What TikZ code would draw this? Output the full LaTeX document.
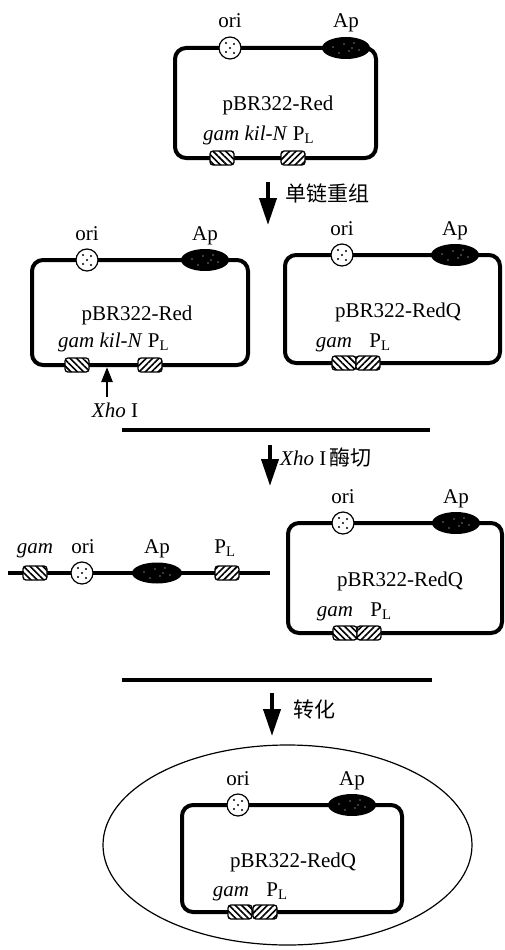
\documentclass[tikz,border=0pt]{standalone}
\usepackage{fontspec}
\setmainfont{Liberation Serif}
\newfontfamily\cjk{Noto Sans CJK SC}
\usetikzlibrary{arrows.meta,shapes.geometric,patterns.meta}
\tikzset{every node/.style={font=\fontsize{21}{25}\selectfont},
         loopline/.style={line width=4pt,rounded corners=11pt},
         dnaline/.style={line width=3.5pt},
         ori/.style={circle,draw,line width=1.2pt,fill=white,minimum size=22pt,inner sep=0pt,
           path picture={\foreach \dx/\dy in {-4/-4,4/-5,0/0,-4/5,4/4}
             \fill[black] ([shift={(\dx pt,\dy pt)}]path picture bounding box.center) circle (1.1pt);}},
         apgene/.style={ellipse,fill=black,minimum width=48pt,minimum height=22pt,inner sep=0pt,
           path picture={\foreach \dx/\dy in {-13/1,-7/-5,-2/4,3/-3,8/5,13/-2,6/0}
             \fill[white] ([shift={(\dx pt,\dy pt)}]path picture bounding box.center) circle (0.6pt);}},
         hatch/.style={draw,rounded corners=3pt,line width=1.3pt,minimum width=24pt,
           minimum height=14pt,inner sep=0pt,preaction={fill=white}},
         gambox/.style={hatch,pattern={Lines[angle=-45,distance=4.5pt,line width=1.6pt]}},
         plbox/.style={hatch,pattern={Lines[angle=45,distance=4.5pt,line width=1.6pt]}},
         lbl/.style={anchor=base,inner sep=0pt},
         note/.style={anchor=west,inner sep=0pt},
         bigarrow/.style={line width=4pt,-{Triangle[length=27pt,width=17pt]}},
         cutarrow/.style={line width=2.5pt,-{Triangle[length=15pt,width=11pt]}}}

% #1 name, #2-#5 box, #6 ori, #7 Ap, #8 gam, #9 PL
\newcommand{\plasmidring}[9]{%
  \draw[loopline] (#2,#3) rectangle (#4,#5);
  \node[ori] (#1o) at (#6,#3) {};
  \node[apgene] (#1a) at (#7,#3) {};
  \node[gambox] (#1g) at (#8,#5) {};
  \node[plbox] (#1p) at (#9,#5) {};
  \node[lbl] (#1ol) at ([yshift=20pt]#1o.center) {ori};
  \node[lbl] (#1al) at ([yshift=20pt]#1a.center) {Ap};}

\begin{document}
\begin{tikzpicture}[x=1pt,y=-1pt]
\useasboundingbox (0,0) rectangle (505,950);

% host cell
\node[ellipse,draw,line width=1.2pt,minimum width=369pt,minimum height=200pt] (cell) at (287.5,845) {};

% pBR322-Red
\plasmidring{A}{175}{48}{376}{158}{230}{346}{222}{293}
\node[lbl] (Aname) at (278,110) {pBR322-Red};
\node[lbl,anchor=base west] (Agenes) at (203,140) {\textit{gam kil-N} P\textsubscript{L}};

\coordinate (s1) at (268,182);
\coordinate (t1) at (268,225);
\draw[bigarrow] (s1) -- (t1);
\node[note] (step1) at (285,193) {\cjk 单链重组};

% recombination
\plasmidring{B}{32}{260}{248}{365}{87}{205}{77}{150}
\node[lbl] (Bname) at (137,320) {pBR322-Red};
\node[lbl,anchor=base west] (Bgenes) at (58,347) {\textit{gam kil-N} P\textsubscript{L}};
\coordinate (xs) at (107,397);
\coordinate (xt) at (107,367);
\draw[cutarrow] (xs) -- (xt);
\node[lbl] (xho) at (115,417) {\textit{Xho} I};

\plasmidring{C}{285}{255}{500}{363}{342}{455}{344}{368}
\node[lbl] (Cname) at (398,317) {pBR322-RedQ};
\node[lbl] (Cgam) at (334,347) {\textit{gam}};
\node[lbl] (Cpl) at (380,347) {P\textsubscript{L}};

\draw[dnaline] (122,430) -- (430,430);

\coordinate (s2) at (270,445);
\coordinate (t2) at (270,486);
\draw[bigarrow] (s2) -- (t2);
\node[note] (step2) at (280,458) {\textit{Xho} I\,{\cjk 酶切}};

% XhoI digest
\draw[dnaline] (8,573) -- (270,573);
\node[gambox] (Dg) at (35,573) {};
\node[ori] (Do) at (82,573) {};
\node[apgene,minimum width=50pt,minimum height=21pt] (Da) at (157,573) {};
\node[plbox] (Dp) at (227,573) {};
\node[lbl] (Dgl) at (35,553) {\textit{gam}};
\node[lbl] (Dol) at (83,553) {ori};
\node[lbl] (Dal) at (157,553) {Ap};
\node[lbl] (Dpl) at (225,553) {P\textsubscript{L}};

\plasmidring{E}{288}{523}{502}{633}{343}{456}{345}{369}
\node[lbl] (Ename) at (400,586) {pBR322-RedQ};
\node[lbl] (Egam) at (335,616) {\textit{gam}};
\node[lbl] (Epl) at (381,616) {P\textsubscript{L}};

\draw[dnaline] (122,680) -- (432,680);

\coordinate (s3) at (272,693);
\coordinate (t3) at (272,736);
\draw[bigarrow] (s3) -- (t3);
\node[note] (step3) at (293,710) {\cjk 转化};

% transformed cell
\plasmidring{F}{182}{805}{402}{912}{238}{352}{240}{265}
\node[lbl] (Fname) at (293,867) {pBR322-RedQ};
\node[lbl] (Fgam) at (231,896) {\textit{gam}};
\node[lbl] (Fpl) at (277,896) {P\textsubscript{L}};
\end{tikzpicture}
\end{document}
